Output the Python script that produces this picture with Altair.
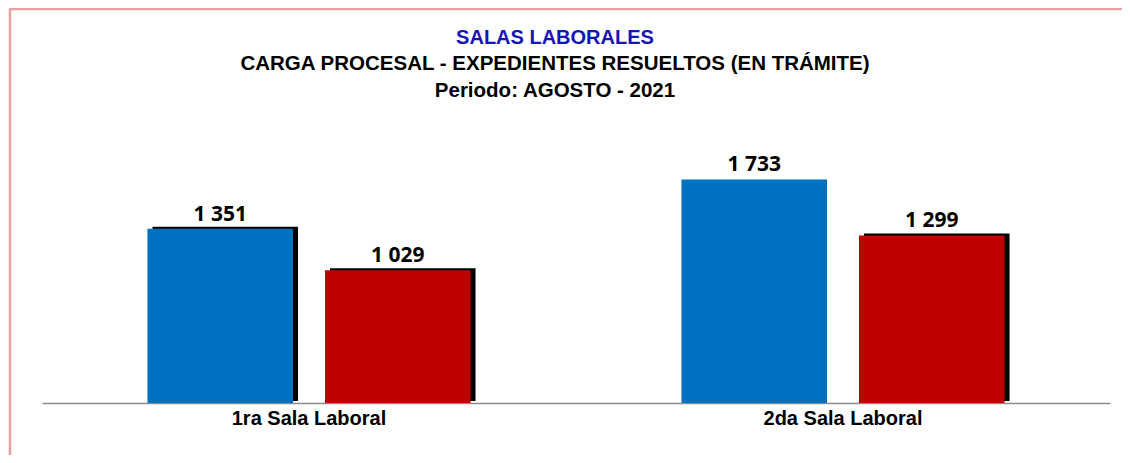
import altair as alt
import pandas as pd

salas = ["1ra Sala Laboral", "2da Sala Laboral"]
series = ["Carga procesal", "Expedientes resueltos"]
carga = [1351, 1733]
resueltos = [1029, 1299]
colors = ["#0070C0", "#C00000"]

title_lines = ["SALAS LABORALES",
               "CARGA  PROCESAL - EXPEDIENTES RESUELTOS (EN TRÁMITE)",
               "Periodo: AGOSTO - 2021"]

rows = []
for i, s in enumerate(salas):
    rows.append({"sala": s, "serie": series[0], "valor": carga[i]})
    rows.append({"sala": s, "serie": series[1], "valor": resueltos[i]})
df = pd.DataFrame(rows)

BAND = 1068 / 2 * (1 - 0.395)

x = alt.X(
    "sala:N", sort=salas, title=None,
    scale=alt.Scale(type="band", paddingInner=0.395, paddingOuter=0.1975),
    axis=alt.Axis(labelAngle=0, ticks=False, domainColor="#8c8c8c", domainWidth=1.5,
                  labelFont="Liberation Sans", labelFontSize=20, labelFontWeight="bold",
                  labelColor="black", labelPadding=5, grid=False),
)
xo = alt.XOffset("serie:N", sort=series,
                 scale=alt.Scale(type="band", paddingInner=0.18, range=[0, BAND]))
xo_sh = alt.XOffset("serie:N", sort=series,
                    scale=alt.Scale(type="band", paddingInner=0.18, range=[5, BAND + 5]))
y = alt.Y("valor:Q", scale=alt.Scale(domain=[0, 2000]), axis=None)
color = alt.Color("serie:N", sort=series, scale=alt.Scale(domain=series, range=colors), legend=None)

shadow = alt.Chart(df).transform_filter(
    "!(datum.sala == '2da Sala Laboral' && datum.serie == 'Carga procesal')"
).mark_bar(color="black", yOffset=-2).encode(x=x, xOffset=xo_sh, y=y)

bars = alt.Chart(df).mark_bar().encode(x=x, xOffset=xo, y=y, color=color)

labels = alt.Chart(df).transform_calculate(
    label="replace(format(datum.valor, ','), ',', ' ')"
).mark_text(font="Noto Sans", fontSize=21, fontWeight="bold", color="black",
            baseline="alphabetic", dy=-8).encode(x=x, xOffset=xo, y=y, text="label:N")

tdf = pd.DataFrame({"t": title_lines})
t1 = alt.Chart(tdf).transform_filter(alt.datum.t == title_lines[0]).mark_text(
    font="Liberation Sans", fontSize=20, fontWeight="bold", color="#1414B8", baseline="alphabetic"
).encode(text="t:N", x=alt.value(513), y=alt.value(-101))
t2 = alt.Chart(tdf).transform_filter(alt.datum.t == title_lines[1]).mark_text(
    font="Liberation Sans", fontSize=20.5, fontWeight="bold", color="black", baseline="alphabetic"
).encode(text="t:N", x=alt.value(513), y=alt.value(-75))
t3 = alt.Chart(tdf).transform_filter(alt.datum.t == title_lines[2]).mark_text(
    font="Liberation Sans", fontSize=20.5, fontWeight="bold", color="black", baseline="alphabetic"
).encode(text="t:N", x=alt.value(513), y=alt.value(-48))

border_left = alt.Chart(pd.DataFrame({"k": [0]})).mark_rule(
    color="#E8A0A0", strokeWidth=2.5
).encode(x=alt.value(-32), y=alt.value(-136), y2=alt.value(320))
border_top = alt.Chart(pd.DataFrame({"k": [0]})).mark_rule(
    color="#E8A0A0", strokeWidth=2.5
).encode(x=alt.value(-33), x2=alt.value(1080), y=alt.value(-136))

chart = alt.layer(border_left, border_top, t1, t2, t3, shadow, bars, labels).resolve_scale(
    xOffset="independent"
).properties(
    width=1068, height=258,
    autosize=alt.AutoSizeParams(type="none"),
    padding={"left": 34, "top": 137, "right": 12, "bottom": 52},
).configure_view(stroke=None)

chart.save("out.html", embed_options={"renderer": "svg", "actions": False})
